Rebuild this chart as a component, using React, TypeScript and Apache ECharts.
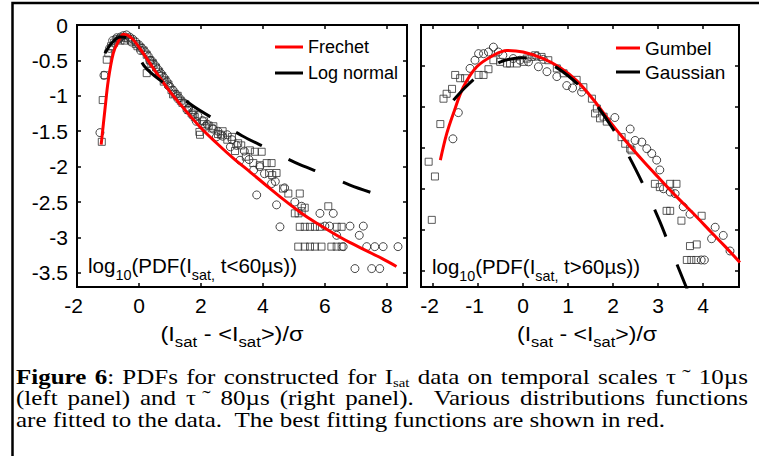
import React, { useEffect, useRef } from 'react';
import * as echarts from 'echarts';

const SANS = 'Liberation Sans, Arial, sans-serif';
const SERIF = 'Liberation Serif, Times New Roman, serif';

// ---- axis ticks ----
const leftXTicks = [-2, 0, 2, 4, 6, 8];
const leftYTicks = [0, -0.5, -1, -1.5, -2, -2.5, -3, -3.5];
const rightXTicks = [-2, -1, 0, 1, 2, 3, 4];
const rightYTicks = [0, -0.5, -1, -1.5, -2, -2.5, -3];

// ---- left panel (t < 60 us) ----
const frechetX = [-1.22, -1.1, -0.99, -0.83, -0.67, -0.5, -0.35, -0.18, 0.14, 0.57, 1.0, 1.45, 1.97, 2.51, 3.04, 3.6, 4.12, 4.65, 5.19, 5.7, 6.27, 6.8, 7.35, 7.85, 8.31];
const frechetY = [-1.69, -1.2, -0.78, -0.4, -0.235, -0.13, -0.15, -0.21, -0.4, -0.68, -0.94, -1.18, -1.44, -1.67, -1.88, -2.08, -2.27, -2.46, -2.64, -2.79, -2.94, -3.07, -3.19, -3.3, -3.41];

const lognormX = [-1.1, -0.85, -0.6, -0.4, -0.15, 0.19, 0.89, 1.7, 2.51, 3.31, 4.17, 5.03, 5.93, 6.81, 7.72];
const lognormY = [-0.4, -0.24, -0.17, -0.18, -0.3, -0.59, -0.85, -1.13, -1.35, -1.56, -1.75, -1.94, -2.1, -2.26, -2.4];

const leftCircleX = [-1.26, -1.13, -0.95, -0.85, -0.72, -0.6, -0.5, -0.4, -0.3, -0.2, -0.1, 0.0, 0.1, 0.2, 0.3, 0.4, 0.5, 0.6, 0.7, 0.8, 0.9, 1.0, 1.1, 1.2, 1.3, 1.45, 1.6, 1.75, 1.9, 2.05, 2.2, 2.4, 2.55, 2.7, 2.85, 3.0, 3.15, 3.26, 3.4, 3.55, 3.7, 3.8, 3.9, 4.05, 4.28, 4.4, 4.44, 4.55, 4.7, 5.03, 5.25, 5.84, 6.27, 6.0, 6.15, 6.81, 7.24, 6.38, 7.11, 6.59, 7.35, 7.61, 7.88, 8.36, 6.97, 7.51, 7.77,
  -0.65, -0.25, 0.05, 0.35, 0.65, 0.95, 1.25, 1.55, 1.85, 2.15, 2.5, 2.95];
const leftCircleY = [-1.52, -0.71, -0.33, -0.22, -0.18, -0.17, -0.15, -0.14, -0.17, -0.2, -0.24, -0.28, -0.33, -0.38, -0.44, -0.5, -0.56, -0.62, -0.68, -0.74, -0.8, -0.87, -0.92, -0.98, -1.03, -1.1, -1.17, -1.22, -1.28, -1.35, -1.4, -1.47, -1.5, -1.57, -1.55, -1.62, -1.7, -1.91, -1.78, -1.9, -2.05, -2.4, -2.0, -2.1, -2.24, -2.21, -2.54, -2.85, -2.3, -2.5, -2.56, -2.66, -2.66, -2.84, -2.84, -2.84, -2.84, -2.97, -2.97, -3.13, -3.13, -3.13, -3.13, -3.13, -3.44, -3.44, -3.44,
  -0.2, -0.24, -0.36, -0.5, -0.7, -0.86, -1.04, -1.2, -1.36, -1.43, -1.58, -1.72];

const leftSquareX = [-1.2, -1.17, -1.1, -1.04, -0.99, -0.9, -0.8, -0.7, -0.6, -0.5, -0.35, -0.25, -0.1, 0.05, 0.15, 0.25, 0.25, 0.35, 0.45, 0.55, 0.65, 0.75, 0.85, 0.95, 1.05, 1.15, 1.25, 1.35, 1.5, 1.6, 1.7, 1.8, 1.95, 1.97, 2.1, 2.25, 2.4, 2.55, 2.7, 2.85, 3.0, 3.2, 3.1, 3.3, 3.58, 3.74, 3.96, 3.69, 3.9, 4.12, 4.28, 4.2, 4.44, 4.3, 4.65, 4.82, 5.19, 5.03, 5.15, 5.25, 5.35, 6.11, 5.19, 5.35, 5.52, 5.68, 5.84, 6.38, 6.54, 5.14, 5.35, 5.52, 5.68, 5.89, 6.21, 6.38, 6.54,
  -0.45, -0.05, 0.4, 0.8, 1.1, 1.4, 1.75, 2.05, 2.35, 2.65, 3.45];
const leftSquareY = [-1.65, -1.06, -0.71, -0.49, -0.4, -0.3, -0.25, -0.2, -0.22, -0.18, -0.19, -0.22, -0.27, -0.32, -0.36, -0.68, -0.42, -0.5, -0.54, -0.6, -0.66, -0.72, -0.78, -0.84, -0.92, -0.97, -1.0, -1.07, -1.12, -1.2, -1.25, -1.3, -1.51, -1.55, -1.36, -1.42, -1.43, -1.54, -1.5, -1.62, -1.58, -1.67, -1.78, -1.7, -1.77, -1.79, -1.79, -1.95, -1.98, -1.95, -1.95, -2.09, -2.09, -2.12, -2.31, -2.38, -2.38, -2.66, -2.66, -2.63, -2.58, -2.56, -2.85, -2.85, -2.85, -2.85, -2.85, -2.85, -2.85, -3.13, -3.13, -3.13, -3.13, -3.13, -3.13, -3.13, -3.13,
  -0.22, -0.3, -0.55, -0.8, -0.98, -1.1, -1.27, -1.4, -1.46, -1.55, -1.86];

// ---- right panel (t > 60 us) ----
const gumbelX = [-1.84, -1.7, -1.55, -1.33, -1.03, -0.66, -0.36, 0.0, 0.45, 0.82, 1.19, 1.56, 1.93, 2.3, 2.7, 3.04, 3.4, 3.78, 4.2, 4.5, 4.82];
const gumbelY = [-1.65, -1.33, -1.08, -0.76, -0.51, -0.37, -0.31, -0.33, -0.41, -0.52, -0.68, -0.91, -1.18, -1.43, -1.68, -1.88, -2.09, -2.3, -2.54, -2.71, -2.9];

const gaussX = [-1.55, -1.3, -1.0, -0.5, 0.0, 0.5, 1.0, 1.5, 2.0, 2.5, 3.0, 3.3, 3.7];
const gaussY = [-0.92, -0.77, -0.62, -0.45, -0.4, -0.45, -0.62, -0.89, -1.27, -1.76, -2.35, -2.76, -3.3];

const rightCircleX = [-1.56, -1.44, -1.18, -1.07, -0.99, -0.88, -0.77, -0.66, -0.55, -0.45, -0.22, -0.07, 0.12, 0.3, 0.34, 0.45, 0.53, 0.75, 0.97, 1.1, 1.3, 2.04, 2.38, 2.49, 2.64, 2.75, 2.86, 2.97, 3.04, 3.12, 3.27, 3.38, 3.56, 3.71, 4.27, 4.45, 4.19, 4.6, 3.96, 4.03];
const rightCircleY = [-1.39, -1.07, -0.53, -0.43, -0.35, -0.35, -0.33, -0.27, -0.33, -0.37, -0.41, -0.43, -0.45, -0.38, -0.51, -0.42, -0.57, -0.63, -0.74, -0.77, -0.82, -1.13, -1.27, -1.41, -1.43, -1.51, -1.57, -1.65, -1.77, -2.0, -2.04, -2.06, -2.22, -2.31, -2.47, -2.57, -2.61, -2.76, -2.87, -2.87];

const rightSquareX = [-2.1, -1.96, -2.03, -1.84, -1.77, -1.7, -1.58, -1.51, -1.4, -1.29, -0.99, -0.88, -0.77, -0.66, -0.51, -0.36, -0.29, -0.14, 0.01, 0.08, 0.19, 0.27, 0.41, 0.56, 0.75, 0.9, 1.19, 1.34, 1.53, 1.64, 1.6, 1.71, 1.79, 1.86, 2.19, 2.27, 2.38, 2.41, 2.93, 3.04, 3.27, 3.41, 3.19, 3.27, 3.52, 3.97, 3.71, 3.86, 3.64, 3.74, 3.85];
const rightSquareY = [-1.67, -1.85, -2.38, -1.21, -0.9, -0.84, -0.78, -0.61, -0.65, -0.65, -0.61, -0.61, -0.54, -0.43, -0.45, -0.47, -0.47, -0.47, -0.45, -0.41, -0.39, -0.37, -0.39, -0.43, -0.53, -0.59, -0.67, -0.76, -0.9, -1.02, -1.08, -1.14, -1.12, -1.18, -1.37, -1.45, -1.51, -1.53, -1.94, -1.98, -1.94, -1.94, -2.27, -2.27, -2.39, -2.33, -2.7, -2.68, -2.87, -2.87, -2.87];

const zip = (xs: number[], ys: number[]) => xs.map((x, i) => [x, ys[i]]);

type Seg = { t: string; size: number; dy?: number; bold?: boolean; serif?: boolean };

function makeMeasure() {
  const ctx = document.createElement('canvas').getContext('2d') as CanvasRenderingContext2D;
  return (s: Seg) => {
    ctx.font = `${s.bold ? 'bold ' : ''}${s.size}px ${s.serif ? SERIF : SANS}`;
    return ctx.measureText(s.t).width;
  };
}

function textEl(s: Seg, x: number, baseline: number, scaleX: number) {
  return {
    type: 'text',
    x,
    y: baseline + (s.dy || 0) - 0.345 * s.size,
    scaleX,
    silent: true,
    style: {
      text: s.t,
      fontSize: s.size,
      fontFamily: s.serif ? SERIF : SANS,
      fontWeight: s.bold ? 'bold' : 'normal',
      fill: '#000',
      align: 'left',
      verticalAlign: 'middle',
    },
  };
}

function fitRun(segs: Seg[], x: number, baseline: number, width: number, measure: (s: Seg) => number, center = false) {
  const w = segs.reduce((a, s) => a + measure(s), 0);
  const sx = width / w;
  let cx = center ? x - width / 2 : x;
  const out: any[] = [];
  for (const s of segs) {
    out.push(textEl(s, cx, baseline, sx));
    cx += measure(s) * sx;
  }
  return out;
}

type Word = { segs: Seg[]; gap?: number };

function lineEls(words: Word[], x0: number, x1: number | null, baseline: number, scaleX: number, measure: (s: Seg) => number, spaceW: number) {
  const widths = words.map((w) => w.segs.reduce((a, s) => a + measure(s), 0) * scaleX);
  const total = widths.reduce((a, b) => a + b, 0);
  const weights = words.slice(1).reduce((a, w) => a + (w.gap || 1), 0);
  const unit = x1 === null ? spaceW : (x1 - x0 - total) / weights;
  const out: any[] = [];
  let cx = x0;
  words.forEach((w, i) => {
    if (i > 0) cx += unit * (w.gap || 1);
    for (const s of w.segs) {
      out.push(textEl(s, cx, baseline, scaleX));
      cx += measure(s) * scaleX;
    }
  });
  return out;
}

const CAP = 22;
const n = (t: string): Seg => ({ t, size: CAP, serif: true });
const b = (t: string): Seg => ({ t, size: CAP, serif: true, bold: true });
const sub = (t: string): Seg => ({ t, size: 13, serif: true, dy: 3 });
const w = (segs: Seg[], gap?: number): Word => ({ segs, gap });
const words = (s: string): Word[] => s.split(' ').map((t) => w([n(t)]));

const captionLine1: Word[] = [
  w([b('Figure')]), w([b('6'), n(':')]), ...words('PDFs for constructed for'),
  w([n('I'), sub('sat')]), ...words('data on temporal scales'), w([n('τ ˜')]), w([n('10µs')]),
];
const captionLine2: Word[] = [
  ...words('(left panel) and'), w([n('τ ˜')]), ...words('80µs (right panel).'),
  w([n('Various')], 2), ...words('distributions functions'),
];
const captionLine3: Word[] = [
  ...words('are fitted to the data.'), w([n('The')], 2), ...words('best fitting functions are shown in red.'),
];

export default function App() {
  const ref = useRef<HTMLDivElement>(null);
  useEffect(() => {
    if (!ref.current) return;
    const chart = echarts.init(ref.current, null, { renderer: 'svg' });
    const measure = makeMeasure();

    const sp = measure(n(' '));
    const nat3 = captionLine3.reduce((a, wd, i) => a + wd.segs.reduce((c, s) => c + measure(s), 0) + (i > 0 ? sp * (wd.gap || 1) : 0), 0);
    const capScale = 649 / nat3;

    const graphics: any[] = [
      { type: 'rect', shape: { x: 12.5, y: 3, width: 800, height: 500 }, style: { fill: 'none', stroke: '#000', lineWidth: 2.5 }, silent: true },
      ...lineEls(captionLine1, 16, 748, 384, capScale, measure, sp * capScale),
      ...lineEls(captionLine2, 16, 748, 405.5, capScale, measure, sp * capScale),
      ...lineEls(captionLine3, 16, null, 427, capScale, measure, sp * capScale),
      ...fitRun([
        { t: 'log', size: 20 }, { t: '10', size: 14, dy: 7 }, { t: '(PDF(I', size: 20 },
        { t: 'sat,', size: 14, dy: 7 }, { t: ' t<60µs))', size: 20 },
      ], 88, 273, 209, measure),
      ...fitRun([
        { t: 'log', size: 20 }, { t: '10', size: 14, dy: 7 }, { t: '(PDF(I', size: 20 },
        { t: 'sat,', size: 14, dy: 7 }, { t: ' t>60µs))', size: 20 },
      ], 432, 274, 208, measure),
      ...fitRun([
        { t: '(I', size: 21 }, { t: 'sat', size: 15, dy: 6 }, { t: ' - <I', size: 21 },
        { t: 'sat', size: 15, dy: 6 }, { t: '>)/σ', size: 21 },
      ], 232, 341, 143, measure, true),
      ...fitRun([
        { t: '(I', size: 21 }, { t: 'sat', size: 15, dy: 6 }, { t: ' - <I', size: 21 },
        { t: 'sat', size: 15, dy: 6 }, { t: '>)/σ', size: 21 },
      ], 587, 341, 140, measure, true),
    ];

    const tick = (vals: number[]) => ({ show: true, inside: true, length: 4, customValues: vals, lineStyle: { color: '#000', width: 1.5 } });
    const xLabel = (vals: number[]) => ({
      show: true, customValues: vals, fontSize: 21, fontFamily: SANS, color: '#000', margin: 8,
      // the minus sign hangs to the left of the tick, as in the source figure
      formatter: (v: number) => (v < 0 ? `${v}{p| }` : `${v}`),
      rich: { p: { width: 7, fontSize: 21 } },
    });
    const yLabel = (vals: number[]) => ({ show: true, customValues: vals, fontSize: 21, fontFamily: SANS, color: '#000', margin: 9 });
    const noLabel = { show: false };
    const xa = (grid: number, min: number, max: number, ticks: number[], pos: string, showLabel: boolean) => ({
      gridIndex: grid, type: 'value', min, max, position: pos,
      axisLine: { show: false, onZero: false }, splitLine: { show: false },
      axisTick: tick(ticks), axisLabel: showLabel ? xLabel(ticks) : noLabel,
    });
    const ya = (grid: number, min: number, max: number, ticks: number[], pos: string, showLabel: boolean) => ({
      gridIndex: grid, type: 'value', min, max, position: pos,
      axisLine: { show: false, onZero: false }, splitLine: { show: false },
      axisTick: tick(ticks), axisLabel: showLabel ? yLabel(ticks) : noLabel,
    });

    const scatter = (name: string, x: number, y: number, xs: number[], ys: number[], symbol: string, size: number, stroke: string) => ({
      type: 'scatter', name, xAxisIndex: x, yAxisIndex: y, data: zip(xs, ys), symbol, symbolSize: size,
      itemStyle: { color: 'rgba(0,0,0,0)', borderColor: stroke, borderWidth: 1 }, z: 2, silent: true,
    });
    const line = (name: string, x: number, y: number, xs: number[], ys: number[], color: string, dashed: boolean) => ({
      type: 'line', name, xAxisIndex: x, yAxisIndex: y, data: zip(xs, ys), smooth: 0.35,
      showSymbol: false, symbol: 'none', color, z: 5, silent: true,
      lineStyle: { color, width: 3, type: dashed ? [29, 30] : 'solid' },
    });

    chart.setOption({
      animation: false,
      backgroundColor: '#fff',
      grid: [
        { left: 77, top: 25, width: 330, height: 262, show: true, borderColor: '#000', borderWidth: 2, backgroundColor: 'transparent' },
        { left: 421, top: 25, width: 318, height: 262, show: true, borderColor: '#000', borderWidth: 2, backgroundColor: 'transparent' },
      ],
      xAxis: [
        xa(0, -2, 8.65, leftXTicks, 'bottom', true),
        xa(0, -2, 8.65, leftXTicks, 'top', false),
        xa(1, -2.27, 4.8, rightXTicks, 'bottom', true),
        xa(1, -2.27, 4.8, rightXTicks, 'top', false),
      ],
      yAxis: [
        ya(0, -3.7, 0, leftYTicks, 'left', true),
        ya(0, -3.7, 0, leftYTicks, 'right', false),
        ya(1, -3.2, 0, rightYTicks, 'left', false),
        ya(1, -3.2, 0, rightYTicks, 'right', false),
      ],
      legend: [
        {
          left: 275, top: 37, orient: 'vertical', padding: 0, itemWidth: 28, itemHeight: 3, itemGap: 6, icon: 'rect',
          selectedMode: false, data: ['Frechet', 'Log normal'],
          textStyle: { fontSize: 18, fontFamily: SANS, color: '#000', lineHeight: 20 },
        },
        {
          left: 616, top: 38, orient: 'vertical', padding: 0, itemWidth: 24, itemHeight: 3, itemGap: 4, icon: 'rect',
          selectedMode: false, data: ['Gumbel', 'Gaussian'],
          textStyle: { fontSize: 19, fontFamily: SANS, color: '#000', lineHeight: 20 },
        },
      ],
      series: [
        scatter('lc', 0, 0, leftCircleX, leftCircleY, 'circle', 8, '#1a1a1a'),
        scatter('ls', 0, 0, leftSquareX, leftSquareY, 'rect', 7, '#333'),
        line('Frechet', 0, 0, frechetX, frechetY, '#ff0000', false),
        line('Log normal', 0, 0, lognormX, lognormY, '#000000', true),
        scatter('rc', 2, 2, rightCircleX, rightCircleY, 'circle', 8, '#1a1a1a'),
        scatter('rs', 2, 2, rightSquareX, rightSquareY, 'rect', 7, '#333'),
        line('Gumbel', 2, 2, gumbelX, gumbelY, '#ff0000', false),
        line('Gaussian', 2, 2, gaussX, gaussY, '#000000', true),
      ],
      graphic: graphics,
    });
    return () => chart.dispose();
  }, []);
  return <div ref={ref} style={{ position: 'absolute', left: 0, top: 0, width: 759, height: 456, background: '#fff' }} />;
}
